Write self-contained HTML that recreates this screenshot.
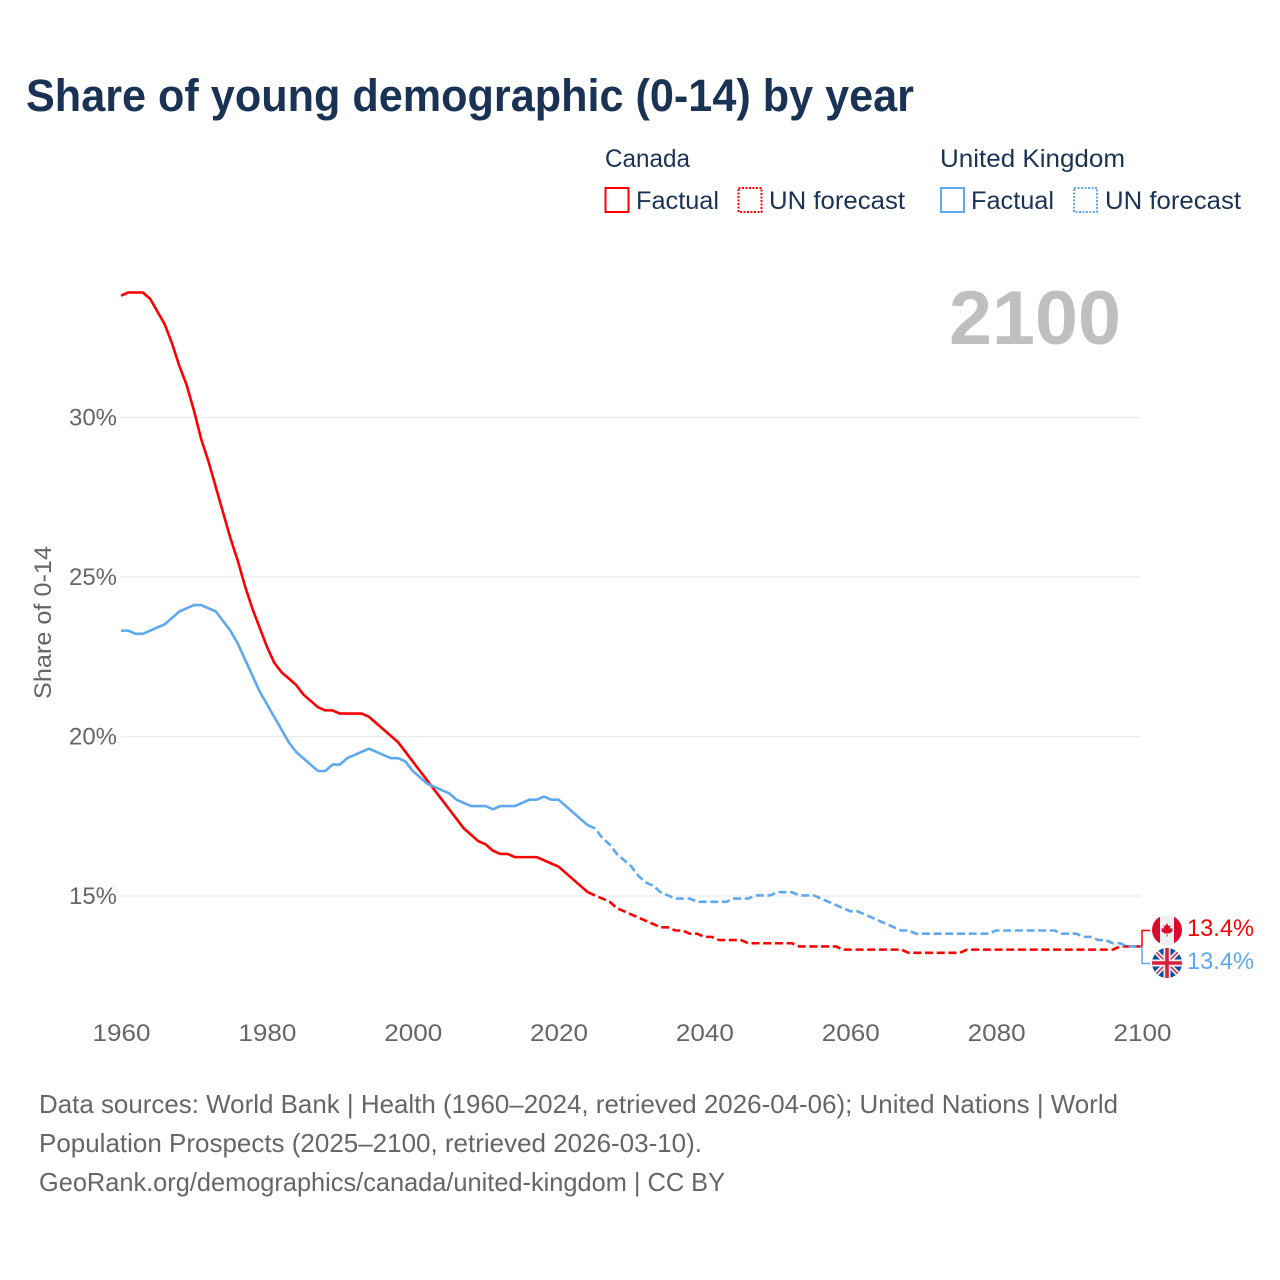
<!DOCTYPE html>
<html lang="en">
<head>
<meta charset="utf-8">
<title>Share of young demographic (0-14) by year</title>
<style>
html,body{margin:0;padding:0;background:#fff;width:1280px;height:1280px;overflow:hidden}
svg{display:block}
text{font-family:"Liberation Sans",sans-serif}
</style>
</head>
<body>
<svg id="chart" width="1280" height="1280" viewBox="0 0 1280 1280" xmlns="http://www.w3.org/2000/svg">
  <defs>
    <clipPath id="clip-ca"><circle cx="1167" cy="930" r="15"/></clipPath>
    <clipPath id="clip-uk"><circle cx="1167" cy="963" r="15"/></clipPath>
  </defs>
  <text x="26" y="111" font-size="45" font-weight="700" fill="#1a3354" textLength="888" lengthAdjust="spacingAndGlyphs">Share of young demographic (0-14) by year</text>

  <g font-size="25" fill="#1a3354">
    <text x="605" y="167" textLength="85" lengthAdjust="spacingAndGlyphs">Canada</text>
    <text x="940" y="167" textLength="185" lengthAdjust="spacingAndGlyphs">United Kingdom</text>
    <rect x="605.5" y="188" width="23" height="24" fill="none" stroke="#ff0000" stroke-width="2"/>
    <text x="636" y="209" textLength="83" lengthAdjust="spacingAndGlyphs">Factual</text>
    <rect x="738.5" y="188" width="23" height="24" fill="none" stroke="#ff0000" stroke-width="2" stroke-dasharray="2 1.5"/>
    <text x="769" y="209" textLength="136" lengthAdjust="spacingAndGlyphs">UN forecast</text>
    <rect x="941" y="188" width="23" height="24" fill="none" stroke="#5fa8f0" stroke-width="2"/>
    <text x="971" y="209" textLength="83" lengthAdjust="spacingAndGlyphs">Factual</text>
    <rect x="1074" y="188" width="23" height="24" fill="none" stroke="#5fa8f0" stroke-width="2" stroke-dasharray="2 1.5"/>
    <text x="1105" y="209" textLength="136" lengthAdjust="spacingAndGlyphs">UN forecast</text>
  </g>

  <text x="949" y="344" font-size="76" font-weight="700" fill="#bfbfbf" textLength="172" lengthAdjust="spacingAndGlyphs">2100</text>

  <text transform="translate(51,622.5) rotate(-90)" text-anchor="middle" font-size="24" fill="#666666" textLength="153" lengthAdjust="spacingAndGlyphs">Share of 0-14</text>

  <g id="grid"></g>
  <g id="y-labels"></g>
  <g id="x-labels"></g>
  <g id="series" transform="translate(0,-0.6)"></g>

  <g id="end-labels">
    <path id="connector-canada" d="" fill="none" stroke="#ff0000" stroke-width="1.5"/>
    <path id="connector-uk" d="" fill="none" stroke="#5fa8f0" stroke-width="1.5"/>

    <g clip-path="url(#clip-ca)">
      <rect x="1152" y="915" width="30" height="30" fill="#f1f1f1"/>
      <rect x="1152" y="915" width="8" height="30" fill="#dc0a2d"/>
      <rect x="1174" y="915" width="8" height="30" fill="#dc0a2d"/>
      <polygon points="1167,923 1168.6,926 1170.5,925.2 1169.8,928.6 1172.5,928 1172,930 1173,930.8 1169.6,933.4 1167.4,933.2 1167.4,936.6 1166.6,936.6 1166.6,933.2 1164.4,933.4 1161,930.8 1162,930 1161.5,928 1164.2,928.6 1163.5,925.2 1165.4,926" fill="#dc0a2d"/>
    </g>
    <g clip-path="url(#clip-uk)">
      <rect x="1152" y="948" width="30" height="30" fill="#0a4ea2"/>
      <path d="M1152 948L1182 978M1182 948L1152 978" stroke="#f1f1f1" stroke-width="5"/>
      <path d="M1152 948L1182 978M1182 948L1152 978" stroke="#d8203a" stroke-width="1.5"/>
      <path d="M1167 948V978M1152 963H1182" stroke="#f1f1f1" stroke-width="7"/>
      <path d="M1167 948V978M1152 963H1182" stroke="#d8203a" stroke-width="3.6"/>
    </g>

    <text id="value-canada" x="1187" y="936" font-size="24" fill="#ff0000" textLength="67" lengthAdjust="spacingAndGlyphs"></text>
    <text id="value-uk" x="1187" y="969" font-size="24" fill="#5fa8f0" textLength="67" lengthAdjust="spacingAndGlyphs"></text>
  </g>

  <g font-size="26" fill="#666666">
    <text x="39" y="1113" textLength="1079" lengthAdjust="spacingAndGlyphs">Data sources: World Bank | Health (1960–2024, retrieved 2026-04-06); United Nations | World</text>
    <text x="39" y="1152" textLength="663" lengthAdjust="spacingAndGlyphs">Population Prospects (2025–2100, retrieved 2026-03-10).</text>
    <text x="39" y="1191" textLength="686" lengthAdjust="spacingAndGlyphs">GeoRank.org/demographics/canada/united-kingdom | CC BY</text>
  </g>
</svg>
<script>
const xTicks = [1960, 1980, 2000, 2020, 2040, 2060, 2080, 2100];
const yTicks = [15, 20, 25, 30];
const factualStartYear = 1960;
const forecastStartYear = 2024;

const canadaFactual = [
  33.8,33.9,33.9,33.9,33.7,33.3,32.9,32.3,31.6,31.0,
  30.2,29.3,28.6,27.8,27.0,26.2,25.5,24.7,24.0,23.4,
  22.8,22.3,22.0,21.8,21.6,21.3,21.1,20.9,20.8,20.8,
  20.7,20.7,20.7,20.7,20.6,20.4,20.2,20.0,19.8,19.5,
  19.2,18.9,18.6,18.3,18.0,17.7,17.4,17.1,16.9,16.7,
  16.6,16.4,16.3,16.3,16.2,16.2,16.2,16.2,16.1,16.0,
  15.9,15.7,15.5,15.3,15.1
];
const canadaForecast = [
  15.1,15.0,14.9,14.8,14.6,14.5,14.4,14.3,14.2,14.1,
  14.0,14.0,13.9,13.9,13.8,13.8,13.7,13.7,13.6,13.6,
  13.6,13.6,13.5,13.5,13.5,13.5,13.5,13.5,13.5,13.4,
  13.4,13.4,13.4,13.4,13.4,13.3,13.3,13.3,13.3,13.3,
  13.3,13.3,13.3,13.3,13.2,13.2,13.2,13.2,13.2,13.2,
  13.2,13.2,13.3,13.3,13.3,13.3,13.3,13.3,13.3,13.3,
  13.3,13.3,13.3,13.3,13.3,13.3,13.3,13.3,13.3,13.3,
  13.3,13.3,13.3,13.4,13.4,13.4,13.4
];
const ukFactual = [
  23.3,23.3,23.2,23.2,23.3,23.4,23.5,23.7,23.9,24.0,
  24.1,24.1,24.0,23.9,23.6,23.3,22.9,22.4,21.9,21.4,
  21.0,20.6,20.2,19.8,19.5,19.3,19.1,18.9,18.9,19.1,
  19.1,19.3,19.4,19.5,19.6,19.5,19.4,19.3,19.3,19.2,
  18.9,18.7,18.5,18.4,18.3,18.2,18.0,17.9,17.8,17.8,
  17.8,17.7,17.8,17.8,17.8,17.9,18.0,18.0,18.1,18.0,
  18.0,17.8,17.6,17.4,17.2
];
const ukForecast = [
  17.2,17.1,16.8,16.6,16.3,16.1,15.9,15.6,15.4,15.3,
  15.1,15.0,14.9,14.9,14.9,14.8,14.8,14.8,14.8,14.8,
  14.9,14.9,14.9,15.0,15.0,15.0,15.1,15.1,15.1,15.0,
  15.0,15.0,14.9,14.8,14.7,14.6,14.5,14.5,14.4,14.3,
  14.2,14.1,14.0,13.9,13.9,13.8,13.8,13.8,13.8,13.8,
  13.8,13.8,13.8,13.8,13.8,13.8,13.9,13.9,13.9,13.9,
  13.9,13.9,13.9,13.9,13.9,13.8,13.8,13.8,13.7,13.7,
  13.6,13.6,13.5,13.5,13.4,13.4,13.4
];
const endValues = [13.4, 13.4];

const X0 = 121, X1 = 1142, Y15 = 896, PX_PER_PCT = 31.9;
const NS = 'http://www.w3.org/2000/svg';
function xScale(year) { return X0 + (year - 1960) * (X1 - X0) / 140; }
function yScale(value) { return Y15 - (value - 15) * PX_PER_PCT; }
function pathFrom(values, startYear) {
  return values.map(function (v, i) {
    return (i ? 'L' : 'M') + xScale(startYear + i).toFixed(2) + ' ' + yScale(v).toFixed(2);
  }).join('');
}

const grid = document.getElementById('grid');
const yLabels = document.getElementById('y-labels');
yTicks.forEach(function (t) {
  const line = document.createElementNS(NS, 'line');
  line.setAttribute('x1', X0);
  line.setAttribute('x2', X1 - 1);
  line.setAttribute('y1', yScale(t));
  line.setAttribute('y2', yScale(t));
  line.setAttribute('stroke', '#ebebeb');
  line.setAttribute('stroke-width', '1.3');
  
  
  grid.appendChild(line);

  const label = document.createElementNS(NS, 'text');
  label.setAttribute('x', 117);
  label.setAttribute('y', yScale(t) + 8);
  label.setAttribute('text-anchor', 'end');
  label.setAttribute('font-size', '24');
  label.setAttribute('fill', '#666666');
  label.setAttribute('textLength', '48');
  label.setAttribute('lengthAdjust', 'spacingAndGlyphs');
  
  
  label.textContent = t + '%';
  yLabels.appendChild(label);
});

const xLabels = document.getElementById('x-labels');
xTicks.forEach(function (t) {
  const label = document.createElementNS(NS, 'text');
  label.setAttribute('x', xScale(t) + 0.5);
  label.setAttribute('y', 1041);
  label.setAttribute('text-anchor', 'middle');
  label.setAttribute('font-size', '24');
  label.setAttribute('fill', '#666666');
  label.setAttribute('textLength', '58');
  label.setAttribute('lengthAdjust', 'spacingAndGlyphs');
  
  
  label.textContent = t;
  xLabels.appendChild(label);
});

const series = document.getElementById('series');
function addLine(values, startYear, color, dashed, name) {
  const p = document.createElementNS(NS, 'path');
  p.setAttribute('d', pathFrom(values, startYear));
  p.setAttribute('fill', 'none');
  p.setAttribute('stroke', color);
  p.setAttribute('stroke-width', '2.6');
  p.setAttribute('stroke-linejoin', 'round');
  if (dashed) p.setAttribute('stroke-dasharray', '8 3.7');
  
  
  series.appendChild(p);
}
addLine(canadaForecast, forecastStartYear, '#ff0000', true, 'line-canada-forecast');
addLine(ukForecast, forecastStartYear, '#5fa8f0', true, 'line-uk-forecast');
addLine(canadaFactual, factualStartYear, '#ff0000', false, 'line-canada-factual');
addLine(ukFactual, factualStartYear, '#5fa8f0', false, 'line-uk-factual');

const endY = yScale(canadaForecast[canadaForecast.length - 1]) - 0.6;
document.getElementById('connector-canada').setAttribute('d', 'M' + X1 + ' ' + endY + 'V930.5H1150');
document.getElementById('connector-uk').setAttribute('d', 'M' + X1 + ' ' + endY + 'V963.5H1150');
document.getElementById('value-canada').textContent = endValues[0].toFixed(1) + '%';
document.getElementById('value-uk').textContent = endValues[1].toFixed(1) + '%';
</script>
</body>
</html>
